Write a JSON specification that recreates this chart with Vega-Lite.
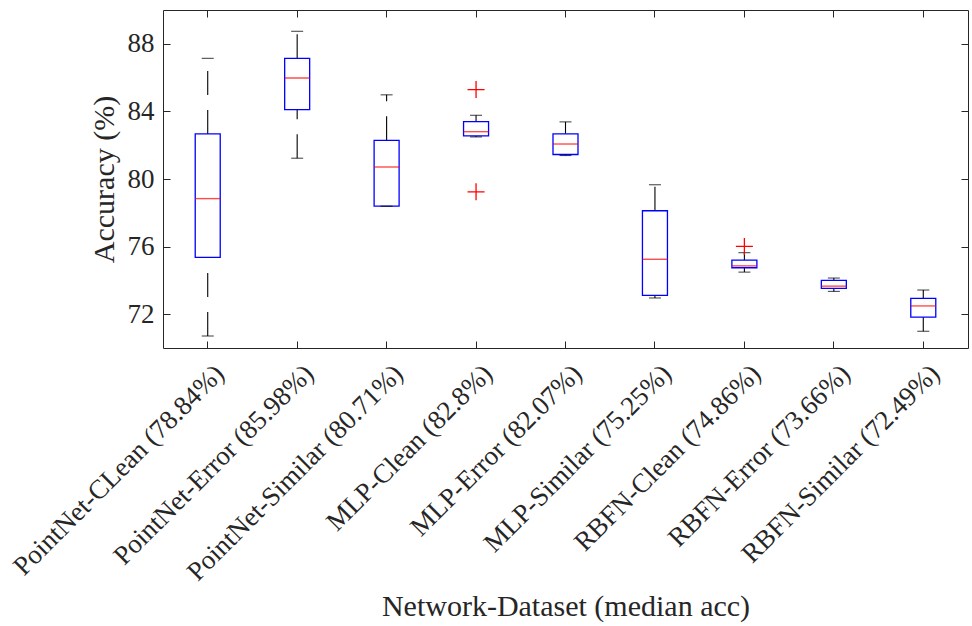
{
  "$schema": "https://vega.github.io/schema/vega-lite/v6.json",
  "width": 805,
  "height": 338,
  "autosize": {"type": "none"},
  "padding": {"left": 163, "top": 10, "right": 4, "bottom": 278},
  "background": "white",
  "datasets": {
    "boxes": [
      {"group": "PointNet-CLean (78.84%)", "lower": 70.71, "q1": 75.36, "median": 78.84, "q3": 82.67, "upper": 87.14},
      {"group": "PointNet-Error (85.98%)", "lower": 81.23, "q1": 84.11, "median": 85.98, "q3": 87.14, "upper": 88.74},
      {"group": "PointNet-Similar (80.71%)", "lower": 78.39, "q1": 78.40, "median": 80.71, "q3": 82.29, "upper": 84.98},
      {"group": "MLP-Clean (82.8%)", "lower": 82.49, "q1": 82.55, "median": 82.80, "q3": 83.40, "upper": 83.77},
      {"group": "MLP-Error (82.07%)", "lower": 81.39, "q1": 81.45, "median": 82.07, "q3": 82.67, "upper": 83.38},
      {"group": "MLP-Similar (75.25%)", "lower": 72.96, "q1": 73.11, "median": 75.25, "q3": 78.12, "upper": 79.66},
      {"group": "RBFN-Clean (74.86%)", "lower": 74.49, "q1": 74.75, "median": 74.86, "q3": 75.20, "upper": 75.64},
      {"group": "RBFN-Error (73.66%)", "lower": 73.35, "q1": 73.53, "median": 73.66, "q3": 74.00, "upper": 74.14},
      {"group": "RBFN-Similar (72.49%)", "lower": 70.99, "q1": 71.83, "median": 72.49, "q3": 72.94, "upper": 73.43}
    ],
    "outliers": [
      {"group": "MLP-Clean (82.8%)", "value": 85.29},
      {"group": "MLP-Clean (82.8%)", "value": 79.24},
      {"group": "RBFN-Clean (74.86%)", "value": 76.01}
    ]
  },
  "config": {
    "font": "Liberation Serif",
    "view": {"stroke": "#262626", "strokeWidth": 1},
    "axis": {
      "labelFont": "Liberation Serif",
      "titleFont": "Liberation Serif",
      "labelFontSize": 27,
      "titleFontSize": 30,
      "titleFontWeight": "normal",
      "labelColor": "#262626",
      "titleColor": "#262626",
      "tickColor": "#262626",
      "tickWidth": 1,
      "domain": false,
      "grid": false,
      "tickSize": -7
    }
  },
  "resolve": {"axis": {"x": "independent", "y": "independent"}},
  "layer": [
    {
      "data": {"name": "boxes"},
      "mark": {"type": "rule", "color": "#000000", "strokeWidth": 1.1, "strokeDash": [24, 15]},
      "encoding": {
        "x": {
          "field": "group", "type": "nominal", "sort": null,
          "scale": {"type": "band", "paddingInner": 0, "paddingOuter": 0, "domain": ["PointNet-CLean (78.84%)", "PointNet-Error (85.98%)", "PointNet-Similar (80.71%)", "MLP-Clean (82.8%)", "MLP-Error (82.07%)", "MLP-Similar (75.25%)", "RBFN-Clean (74.86%)", "RBFN-Error (73.66%)", "RBFN-Similar (72.49%)"]},
          "axis": {"orient": "bottom", "title": "Network-Dataset (median acc)", "labelAngle": -45, "labelAlign": "right", "labelBaseline": "top", "labelPadding": 19, "labelOffset": 3, "titlePadding": 43, "labelLimit": 0}
        },
        "y": {
          "field": "q3", "type": "quantitative",
          "scale": {"domain": [70, 90], "nice": false, "zero": false},
          "axis": {"orient": "left", "title": "Accuracy (%)", "values": [72, 76, 80, 84, 88], "labelPadding": 16, "titlePadding": 8}
        },
        "y2": {"field": "upper"}
      }
    },
    {
      "data": {"name": "boxes"},
      "mark": {"type": "rule", "color": "#000000", "strokeWidth": 1.1, "strokeDash": [24, 15]},
      "encoding": {
        "x": {"field": "group", "type": "nominal", "sort": null, "axis": {"orient": "top", "labels": false, "title": null}},
        "y": {"field": "lower", "type": "quantitative", "axis": {"orient": "right", "labels": false, "title": null, "values": [72, 76, 80, 84, 88]}},
        "y2": {"field": "q1"}
      }
    },
    {
      "data": {"name": "boxes"},
      "mark": {"type": "bar", "width": 25, "fill": "white", "stroke": "#0000FF", "strokeWidth": 1.3},
      "encoding": {
        "x": {"field": "group", "type": "nominal", "sort": null, "axis": null},
        "y": {"field": "q1", "type": "quantitative", "axis": null},
        "y2": {"field": "q3"}
      }
    },
    {
      "data": {"name": "boxes"},
      "mark": {"type": "tick", "color": "#FF0000", "size": 25, "thickness": 1.4},
      "encoding": {
        "x": {"field": "group", "type": "nominal", "sort": null, "axis": null},
        "y": {"field": "median", "type": "quantitative", "axis": null}
      }
    },
    {
      "data": {"name": "boxes"},
      "mark": {"type": "tick", "color": "#000000", "size": 12, "thickness": 1.1},
      "encoding": {
        "x": {"field": "group", "type": "nominal", "sort": null, "axis": null},
        "y": {"field": "upper", "type": "quantitative", "axis": null}
      }
    },
    {
      "data": {"name": "boxes"},
      "mark": {"type": "tick", "color": "#000000", "size": 12, "thickness": 1.1},
      "encoding": {
        "x": {"field": "group", "type": "nominal", "sort": null, "axis": null},
        "y": {"field": "lower", "type": "quantitative", "axis": null}
      }
    },
    {
      "data": {"name": "outliers"},
      "mark": {"type": "point", "shape": "M-1,0L1,0M0,-1L0,1", "stroke": "#FF0000", "strokeWidth": 1.3, "filled": false, "size": 289, "opacity": 1},
      "encoding": {
        "x": {"field": "group", "type": "nominal", "sort": null, "axis": null},
        "y": {"field": "value", "type": "quantitative", "axis": null}
      }
    }
  ]
}
